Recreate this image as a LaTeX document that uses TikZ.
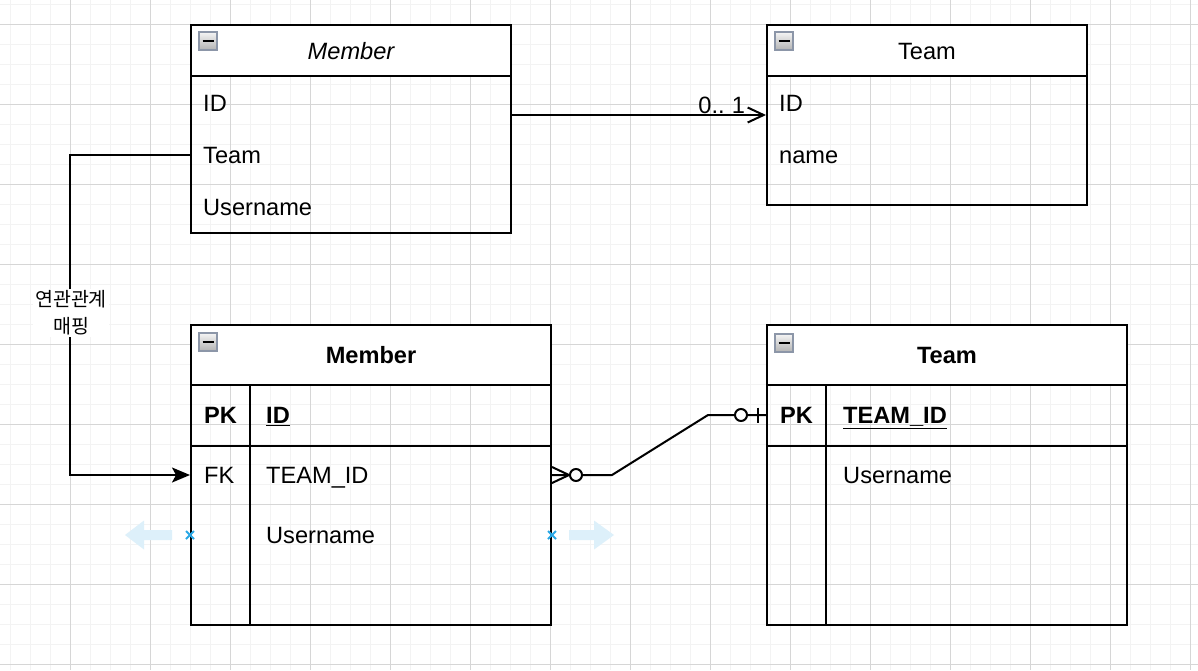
\documentclass[tikz,border=0pt]{standalone}
\usepackage{fontspec}
\setmainfont{Liberation Sans}
\newfontfamily\krfont{Noto Sans CJK KR}
\usetikzlibrary{arrows.meta}
\definecolor{gridminor}{HTML}{F3F3F3}
\definecolor{gridmajor}{HTML}{D6D6D6}
\definecolor{iconedge}{HTML}{8C96A8}
\definecolor{hintblue}{HTML}{2AA8E6}
\definecolor{hintpale}{HTML}{DDF0FA}

\begin{document}
\begin{tikzpicture}[x=1pt,y=-1pt,
  every node/.style={font=\fontsize{23.6}{28}\selectfont},
  frame/.style={draw, line width=2pt, inner sep=0pt},
  head/.style={draw, fill=white, line width=2pt, inner sep=0pt, anchor=north west},
  cell/.style={anchor=west, inner sep=0pt, text height=17pt, text depth=0pt},
  title/.style={inner sep=0pt, text height=17pt, text depth=0pt},
  link/.style={line width=2pt, line join=miter},
  collapse/.style={draw=iconedge, line width=1.5pt, top color=black!4, bottom color=black!30,
    minimum size=18pt, inner sep=0pt,
    path picture={\draw[line width=2.6pt, black]
      ([xshift=-5.5pt]path picture bounding box.center) --
      ([xshift=5.5pt]path picture bounding box.center);}},
  krlabel/.style={font=\krfont\fontsize{19.5}{27}\selectfont, fill=white, align=center, inner sep=2pt},
  hint/.style={draw=hintblue, line width=2pt},
  ghost/.style={fill=hintpale},
]
% page and grid
\useasboundingbox (0,0) rectangle (1198,670);
\fill[white] (0,0) rectangle (1198,670);
\foreach \x in {10,30,...,1190} \draw[gridminor, line width=1pt] (\x,0) -- (\x,670);
\foreach \y in {4,24,...,664} \draw[gridminor, line width=1pt] (0,\y) -- (1198,\y);
\foreach \x in {70,150,...,1190} \draw[gridmajor, line width=1pt] (\x,0) -- (\x,670);
\foreach \y in {24,104,...,664} \draw[gridmajor, line width=1pt] (0,\y) -- (1198,\y);

% class Member
\node[frame, minimum width=320pt, minimum height=208pt] (umlM) at (351,129) {};
\node[head, minimum width=320pt, minimum height=51pt] (umlMhead) at (umlM.north west) {};
\node[title] (umlMtitle) at (umlMhead.center) {\itshape Member};
\node[collapse] (umlMicon) at ([shift={(18,17)}]umlMhead.north west) {};
\node[cell] (umlMid) at (203,103) {ID};
\node[cell] (umlMteam) at (203,155) {Team};
\node[cell] (umlMuser) at (203,207) {Username};

% class Team
\node[frame, minimum width=320pt, minimum height=180pt] (umlT) at (927,115) {};
\node[head, minimum width=320pt, minimum height=51pt] (umlThead) at (umlT.north west) {};
\node[title] (umlTtitle) at (umlThead.center) {Team};
\node[collapse] (umlTicon) at ([shift={(18,17)}]umlThead.north west) {};
\node[cell] (umlTid) at (779,103) {ID};
\node[cell] (umlTname) at (779,155) {name};

% table Member
\node[frame, minimum width=360pt, minimum height=300pt] (erM) at (371,475) {};
\node[head, minimum width=360pt, minimum height=60pt] (erMhead) at (erM.north west) {};
\node[title] (erMtitle) at (erMhead.center) {\bfseries Member};
\node[collapse] (erMicon) at ([shift={(18,18)}]erMhead.north west) {};
\draw[link] ([yshift=-60pt]erMhead.south west) -- ([yshift=-60pt]erMhead.south east);
\draw[link] ([xshift=60pt]erMhead.south west) -- ([xshift=60pt]erM.south west);
\node[cell] (erMpk) at (204,415) {\bfseries PK};
\node[cell] (erMid) at (266,415) {\bfseries\underline{ID}};
\node[cell] (erMfk) at (204,475) {FK};
\node[cell] (erMteam) at (266,475) {TEAM\_ID};
\node[cell] (erMuser) at (266,535) {Username};

% table Team
\node[frame, minimum width=360pt, minimum height=300pt] (erT) at (947,475) {};
\node[head, minimum width=360pt, minimum height=60pt] (erThead) at (erT.north west) {};
\node[title] (erTtitle) at (erThead.center) {\bfseries Team};
\node[collapse] (erTicon) at ([shift={(18,19)}]erThead.north west) {};
\draw[link] ([yshift=-60pt]erThead.south west) -- ([yshift=-60pt]erThead.south east);
\draw[link] ([xshift=60pt]erThead.south west) -- ([xshift=60pt]erT.south west);
\node[cell] (erTpk) at (780,415) {\bfseries PK};
\node[cell] (erTid) at (843,415) {\bfseries\underline{TEAM\_ID}};
\node[cell] (erTuser) at (843,475) {Username};

% association between the classes
\draw[link, -{Straight Barb[length=16pt,width=15pt,line width=2pt]}]
  (umlM.east |- umlT) -- (umlT.west)
  node[pos=1, anchor=south east, inner sep=0pt, xshift=-20pt, yshift=1pt,
       text height=17pt, text depth=0pt] (mult) {0..\hspace{-1.5pt} 1};

% mapping from the class field to the foreign key
\draw[link, -{Stealth[length=18pt,width=15pt,inset=4pt]}]
  (umlM.west |- umlMteam) -- ++(-120,0) |- (erM.west |- erMfk);
\node[krlabel] (maplabel) at (71,313) {연관관계\\매핑};

% relationship between the tables
\coordinate (fkEnd) at (erM.east |- erMfk);
\coordinate (pkEnd) at (erT.west |- erTpk);
\draw[link] (fkEnd) -- ++(60,0) -- ++(96,-60) -- (pkEnd);
\draw[link] ([yshift=8pt]fkEnd) -- ([xshift=17pt]fkEnd) -- ([yshift=-8pt]fkEnd);
\draw[link, fill=white] ([xshift=24pt]fkEnd) circle[radius=6pt];
\draw[link, fill=white] ([xshift=-25pt]pkEnd) circle[radius=6pt];
\draw[link] ([xshift=-8pt,yshift=7.5pt]pkEnd) -- ([xshift=-8pt,yshift=-7.5pt]pkEnd);

% resize hints on the Member table
\coordinate (hintL) at (erM.west |- erMuser);
\coordinate (hintR) at (erM.east |- erMuser);
\fill[ghost] ([shift={(-18,-5)}]hintL) -- ([shift={(-46,-5)}]hintL) -- ([shift={(-46,-14.5)}]hintL)
  -- ([shift={(-65,0)}]hintL) -- ([shift={(-46,14.5)}]hintL) -- ([shift={(-46,5)}]hintL)
  -- ([shift={(-18,5)}]hintL) -- cycle;
\fill[ghost] ([shift={(17,-5)}]hintR) -- ([shift={(42,-5)}]hintR) -- ([shift={(42,-14.5)}]hintR)
  -- ([shift={(62,0)}]hintR) -- ([shift={(42,14.5)}]hintR) -- ([shift={(42,5)}]hintR)
  -- ([shift={(17,5)}]hintR) -- cycle;
\draw[hint] ([shift={(-4,-4)}]hintL) -- ([shift={(4,4)}]hintL);
\draw[hint] ([shift={(-4,4)}]hintL) -- ([shift={(4,-4)}]hintL);
\draw[hint] ([shift={(-4,-4)}]hintR) -- ([shift={(4,4)}]hintR);
\draw[hint] ([shift={(-4,4)}]hintR) -- ([shift={(4,-4)}]hintR);
\end{tikzpicture}
\end{document}
